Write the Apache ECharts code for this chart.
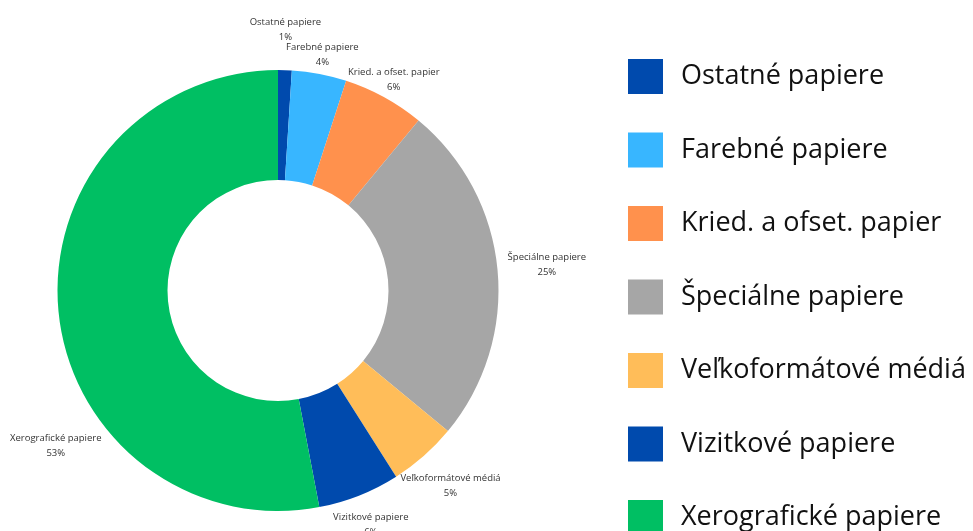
<!DOCTYPE html>
<html>
<head>
<meta charset="utf-8">
<script src="https://cdn.jsdelivr.net/npm/echarts@6/dist/echarts.min.js"></script>
<style>
  html, body { margin: 0; padding: 0; background: #fff; }
  #chart { width: 973px; height: 531px; }
</style>
</head>
<body>
<div id="chart"></div>
<script>
// kategórie papiera a ich podiel (%)
const categories = ['Ostatné papiere', 'Farebné papiere', 'Kried. a ofset. papier', 'Špeciálne papiere', 'Veľkoformátové médiá', 'Vizitkové papiere', 'Xerografické papiere'];
const shares = [1, 4, 6, 25, 5, 6, 53];
const colors = ['#004AAD', '#38B6FF', '#FF914D', '#A6A6A6', '#FFBD59', '#004AAD', '#00BF63'];

const cx = 278, cy = 290.5;
const innerR = 110.5, outerR = 220.5;
const labelFont = 'Open Sans';
const labelSize = 9.5;
const labelLineH = 15;

const chart = echarts.init(document.getElementById('chart'));

const pieData = categories.map((name, i) => ({
  name: name,
  value: shares[i],
  itemStyle: { color: colors[i] }
}));

// šírka popiskov (meranie cez canvas)
const ctx = document.createElement('canvas').getContext('2d');
ctx.font = labelSize + 'px "' + labelFont + '"';
const total = shares.reduce((s, v) => s + v, 0);

// pozície popiskov: stredový uhol výseku, kružnica okolo grafu, potom odsunutie prekryvov
const labelPos = [];
let cum = 0;
shares.forEach((v, i) => {
  const a = (cum + v / 2) / total * Math.PI * 2;
  cum += v;
  const pct = Math.round(v / total * 100) + '%';
  const w = Math.max(ctx.measureText(categories[i]).width, ctx.measureText(pct).width);
  const h = labelLineH * 2;
  const sx = Math.sin(a), sy = -Math.cos(a);
  const r = sy < 0
    ? outerR + 16 + 34 * Math.pow(Math.abs(sx), 3)
    : outerR + 20.5 + 30 * Math.abs(sx);
  let x = cx + r * sx, y = cy + r * sy;
  const minX = w / 2 + 10;
  if (x < minX) {
    x = minX;
    const ddx = x - cx;
    y = cy + (sy >= 0 ? 1 : -1) * Math.sqrt(Math.max(r * r - ddx * ddx, 0));
  }
  labelPos.push({ x: x, y: y, w: w, h: h });
});
for (let i = labelPos.length - 2; i >= 0; i--) {
  const p = labelPos[i], q = labelPos[i + 1];
  const overlapX = (p.w + q.w) / 2 - Math.abs(p.x - q.x);
  const overlapY = (p.h + q.h) / 2 - 5 - Math.abs(p.y - q.y);
  if (overlapX > 0 && overlapY > 0) {
    p.y -= overlapY;
  }
}

const option = {
  animation: false,
  textStyle: { fontFamily: labelFont },
  legend: {
    orient: 'vertical',
    left: 628,
    top: 59,
    height: 520,
    padding: 0,
    itemWidth: 35,
    itemHeight: 35,
    itemGap: 38.5,
    icon: 'rect',
    data: categories,
    textStyle: {
      fontSize: 27,
      color: '#111',
      padding: [0, 0, 0, 13]
    },
    selectedMode: false
  },
  series: [{
    type: 'pie',
    center: [cx, cy],
    radius: [innerR, outerR],
    startAngle: 90,
    clockwise: true,
    data: pieData,
    label: {
      show: true,
      position: 'inside',
      formatter: '{b}\n{d}%',
      fontSize: labelSize,
      lineHeight: labelLineH,
      color: '#333',
      align: 'center'
    },
    labelLine: { show: false },
    labelLayout: params => {
      const p = labelPos[params.dataIndex];
      return { x: p.x, y: p.y, align: 'center', verticalAlign: 'middle' };
    },
    emphasis: { disabled: true }
  }]
};

chart.setOption(option);
</script>
</body>
</html>
